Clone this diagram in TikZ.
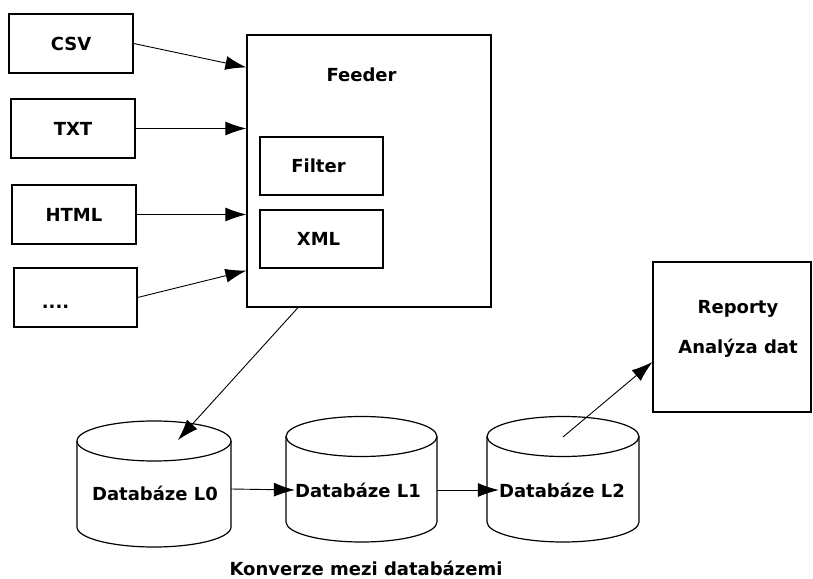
\documentclass[tikz,border=0pt]{standalone}
\usepackage{fontspec}
\setmainfont{DejaVu Sans}
\usepackage{tikz}
\usetikzlibrary{arrows.meta}

\begin{document}
\begin{tikzpicture}[x=1pt,y=1pt,
    font=\bfseries\fontsize{18}{21.6}\selectfont,
    srcbox/.style={draw, line width=1.2pt, minimum width=124pt, minimum height=59pt, inner sep=0pt},
    conn/.style={-{Latex[length=21pt,width=14pt]}, line width=0.9pt},
    dblabel/.style={inner sep=0pt}]
    \useasboundingbox (0,0) rectangle (813,578);
    % zdroje dat
    \node[srcbox] (csv) at (71,534.5) {CSV};
    \node[srcbox] (txt) at (73,449.5) {TXT};
    \node[srcbox] (html) at (74,363.5) {HTML};
    \node[srcbox, minimum width=123pt, text height=13pt, text depth=0pt] (dots) at (75.5,280.5)
       {\raisebox{-5pt}{....}\rule{40pt}{0pt}};
    % feeder
    \node[srcbox, minimum width=244pt, minimum height=272pt] (feeder) at (369,407) {};
    \node (feedername) at (361.5,503) {Feeder};
    \node[srcbox, minimum width=123pt, minimum height=58pt] (filter) at (321.5,412) {\rule{0pt}{0pt}Filter\rule{6pt}{0pt}};
    \node[srcbox, minimum width=123pt, minimum height=58pt] (xml) at (321.5,339) {XML\rule{6pt}{0pt}};
    % reporty
    \node[srcbox, minimum width=158pt, minimum height=150pt] (report) at (732,241) {};
    \node[align=center] (reporttext) at (738,249) {Reporty\\[19pt]Analýza dat};
    % databaze
    \draw[line width=1.2pt] (77,137) -- (77,51) arc (180:360:77 and 20) -- (231,137);
    \draw[line width=1.2pt] (154,137) ellipse (77 and 20);
    \draw[line width=1.2pt] (286,141.5) -- (286,56) arc (180:360:75.5 and 20) -- (437,141.5);
    \draw[line width=1.2pt] (361.5,141.5) ellipse (75.5 and 20);
    \draw[line width=1.2pt] (487,141.5) -- (487,56) arc (180:360:76 and 20) -- (639,141.5);
    \draw[line width=1.2pt] (563,141.5) ellipse (76 and 20);
    \node[dblabel] (db0) at (155,85) {Databáze L0};
    \node[dblabel] (db1) at (358,88) {Databáze L1};
    \node[dblabel] (db2) at (562,88) {Databáze L2};
    \coordinate (cyl0e) at (231,89);
    \coordinate (cyl1e) at (437,88);
    \coordinate (top0) at (178,138);
    \coordinate (top2) at (563,141);
    \node (caption) at (366,10) {Konverze mezi databázemi};
    % sipky
    \draw[conn] (csv.east) -- ([yshift=-33pt]feeder.north west);
    \draw[conn] (txt.east) -- (txt.east -| feeder.west);
    \draw[conn] (html.east) -- (html.east -| feeder.west);
    \draw[conn] (dots.east) -- ([yshift=37pt]feeder.south west);
    \draw[conn] ([xshift=-71pt]feeder.south) -- (top0);
    \draw[conn] (cyl0e) -- (db1.west);
    \draw[conn] (cyl1e) -- (db2.west);
    \draw[conn] (top2) -- ([yshift=-25pt]report.west);
\end{tikzpicture}
\end{document}
